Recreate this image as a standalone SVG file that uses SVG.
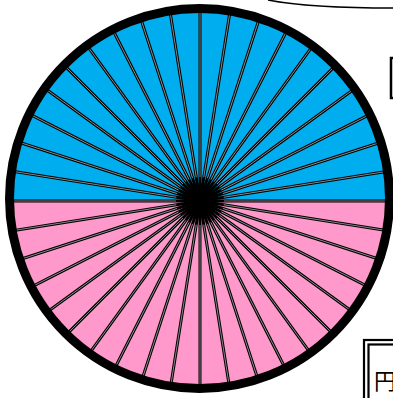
<svg xmlns="http://www.w3.org/2000/svg" xmlns:xlink="http://www.w3.org/1999/xlink" width="393" height="398" viewBox="0 0 393 398">
<style>
.spk{stroke:#000;stroke-width:3}
.gap{stroke:#fff;stroke-width:0.5}
.ring{fill:none;stroke:#000;stroke-width:9}
.frame{fill:none;stroke:#000;stroke-width:2.2}
.curve{fill:none;stroke:#000;stroke-width:1.5}
.lbl{font-family:"Noto Sans CJK JP","Noto Sans CJK SC",sans-serif;font-size:22px;fill:#000}
</style>
<defs>
<clipPath id="disc"><circle cx="199.5" cy="198.5" r="188"/></clipPath>
<g id="spoke">
<line class="spk" x1="0" y1="201" x2="400" y2="201"/>
<line class="gap" x1="0" y1="201" x2="176" y2="201"/>
<line class="gap" x1="224" y1="201" x2="400" y2="201"/>
</g>
</defs>
<g id="pie" clip-path="url(#disc)">
<rect x="0" y="0" width="400" height="201" fill="#00AEEF"/>
<rect x="0" y="201" width="400" height="200" fill="#FF99CC"/>
<use xlink:href="#spoke"/>
<use xlink:href="#spoke" transform="rotate(9 200 201)"/>
<use xlink:href="#spoke" transform="rotate(18 200 201)"/>
<use xlink:href="#spoke" transform="rotate(27 200 201)"/>
<use xlink:href="#spoke" transform="rotate(36 200 201)"/>
<use xlink:href="#spoke" transform="rotate(45 200 201)"/>
<use xlink:href="#spoke" transform="rotate(54 200 201)"/>
<use xlink:href="#spoke" transform="rotate(63 200 201)"/>
<use xlink:href="#spoke" transform="rotate(72 200 201)"/>
<use xlink:href="#spoke" transform="rotate(81 200 201)"/>
<use xlink:href="#spoke" transform="rotate(90 200 201)"/>
<use xlink:href="#spoke" transform="rotate(99 200 201)"/>
<use xlink:href="#spoke" transform="rotate(108 200 201)"/>
<use xlink:href="#spoke" transform="rotate(117 200 201)"/>
<use xlink:href="#spoke" transform="rotate(126 200 201)"/>
<use xlink:href="#spoke" transform="rotate(135 200 201)"/>
<use xlink:href="#spoke" transform="rotate(144 200 201)"/>
<use xlink:href="#spoke" transform="rotate(153 200 201)"/>
<use xlink:href="#spoke" transform="rotate(162 200 201)"/>
<use xlink:href="#spoke" transform="rotate(171 200 201)"/>
<circle cx="200" cy="201" r="6" fill="#000"/>
</g>
<g id="ring"><circle class="ring" cx="199.5" cy="198.5" r="190"/></g>
<g id="connectors"><path class="curve" d="M268 0 Q310 8 393 8"/></g>
<g id="box-right"><rect x="391" y="58" width="20" height="40" fill="none" stroke="#000" stroke-width="2.5"/></g>
<g id="box-bottom">
<rect class="frame" x="364" y="340" width="60" height="80"/>
<rect class="frame" x="368.5" y="344.5" width="60" height="80"/>
<text class="lbl" x="374" y="389">円</text>
</g>
</svg>
